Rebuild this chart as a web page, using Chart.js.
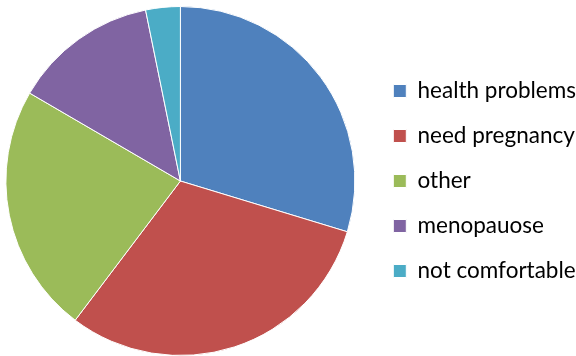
<!DOCTYPE html>
<html lang="en">
<head>
    <meta charset="UTF-8">
    <title>Reasons</title>
    <script src="https://cdn.jsdelivr.net/npm/chart.js"></script>
    <style>
        body {
            margin: 0;
            padding: 0;
            background: #ffffff;
            overflow: hidden;
        }

        /* shifted a bit left so the pie sits where the original one does */
        .chart-box {
            position: relative;
            left: -10px;
            width: 586px;
            height: 356px;
        }
    </style>
</head>
<body>
    <div class="chart-box">
        <canvas id="pieChart"></canvas>
    </div>

    <script>
        // values (percent of the whole)
        const categories = ["health problems", "need pregnancy", "other", "menopauose", "not comfortable"];
        const shares = [29.7, 30.6, 23.1, 13.4, 3.2];
        const sliceColors = ["#4F81BD", "#C0504D", "#9BBB59", "#8064A2", "#4BACC6"];

        var pieChart = new Chart(document.getElementById("pieChart"), {
            type: 'pie',
            data: {
                labels: categories,
                datasets: [{
                    data: shares,
                    backgroundColor: sliceColors,
                    borderColor: "#ffffff",
                    borderWidth: 1
                }]
            },
            options: {
                responsive: true,
                maintainAspectRatio: false,
                animation: false,
                layout: {
                    padding: { left: 0, right: -10, top: 6, bottom: 0 }
                },
                plugins: {
                    tooltip: { enabled: false },
                    legend: {
                        position: 'right',
                        labels: {
                            boxWidth: 13,
                            boxHeight: 13,
                            padding: 22.5,
                            color: "#000000",
                            font: { family: "Lato", size: 22.5 }
                        }
                    }
                }
            }
        });
    </script>
</body>
</html>
